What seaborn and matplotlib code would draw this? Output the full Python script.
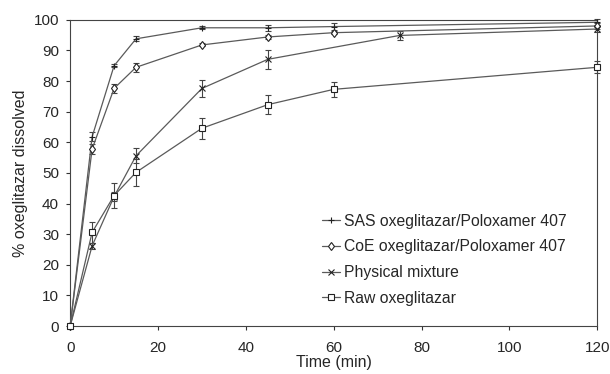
import numpy as np
import pandas as pd
import matplotlib
matplotlib.use('Agg')
import matplotlib.pyplot as plt
import seaborn as sns

# Values
labels = ['SAS oxeglitazar/Poloxamer 407', 'CoE oxeglitazar/Poloxamer 407',
          'Physical mixture', 'Raw oxeglitazar']

sas_t = [0, 5, 10, 15, 30, 45, 60, 120]
sas_y = [0, 61.8, 85.0, 93.8, 97.4, 97.4, 97.8, 99.2]
sas_err = [0, 1.5, 0.5, 0.8, 0.5, 1.0, 1.2, 1.0]

coe_t = [0, 5, 10, 15, 30, 45, 60, 120]
coe_y = [0, 57.8, 77.6, 84.5, 91.8, 94.4, 95.8, 98.0]
coe_err = [0, 1.5, 1.5, 1.5, 0.5, 0.7, 0.5, 1.0]

pm_t = [0, 5, 10, 15, 30, 45, 75, 120]
pm_y = [0, 26.2, 42.3, 55.6, 77.6, 87.1, 94.9, 97.0]
pm_err = [0, 1.0, 1.5, 2.5, 2.8, 3.0, 1.5, 1.0]

raw_t = [0, 5, 10, 15, 30, 45, 60, 120]
raw_y = [0, 30.6, 42.6, 50.2, 64.6, 72.3, 77.3, 84.5]
raw_err = [0, 3.5, 4.0, 4.5, 3.5, 3.0, 2.5, 2.0]

series = [(sas_t, sas_y, sas_err), (coe_t, coe_y, coe_err),
          (pm_t, pm_y, pm_err), (raw_t, raw_y, raw_err)]

frames = []
for lab, (t, y, e) in zip(labels, series):
    frames.append(pd.DataFrame({'time': t, 'dissolved': y, 'err': e, 'sample': lab}))
df = pd.concat(frames, ignore_index=True)

sns.set_style('ticks')
plt.rcParams['font.family'] = ['Liberation Sans', 'DejaVu Sans']

fig = plt.figure(figsize=(6.1, 3.74), dpi=100)
ax = fig.add_axes([0.115, 0.128, 0.864, 0.819])

markers = {labels[0]: '+', labels[1]: 'd', labels[2]: 'x', labels[3]: 's'}
sizes = {labels[0]: 5, labels[1]: 4.5, labels[2]: 4.5, labels[3]: 5}

for lab in labels:
    sub = df[df['sample'] == lab]
    eb = ax.errorbar(sub['time'], sub['dissolved'], yerr=sub['err'], fmt='none',
                     ecolor='#444444', elinewidth=0.8, capsize=2, capthick=0.8, zorder=2)
    for art in eb.lines[1] + eb.lines[2]:
        art.set_clip_on(False)
    sns.lineplot(data=sub, x='time', y='dissolved', ax=ax, color='#5a5a5a',
                 linewidth=0.9, marker=markers[lab], markersize=sizes[lab],
                 markerfacecolor='white', markeredgecolor='#222222',
                 markeredgewidth=0.8, label=lab, zorder=3, clip_on=False)

ax.set_xlim(0, 120)
ax.set_ylim(0, 100)
ax.set_xticks(np.arange(0, 121, 20))
ax.set_yticks(np.arange(0, 101, 10))
ax.tick_params(labelsize=11, length=3, width=0.8, color='#333333')
ax.tick_params(axis='x', pad=8)
ax.tick_params(axis='y', pad=5)
for s in ax.spines.values():
    s.set_color('#444444')
    s.set_linewidth(0.8)

ax.set_xlabel('Time (min)', fontsize=11.5, labelpad=0)
ax.set_ylabel('% oxeglitazar dissolved', fontsize=11.5, labelpad=4)

leg = ax.legend(loc='upper left', bbox_to_anchor=(0.478, 0.367), frameon=False,
                fontsize=11.3, handlelength=1.15, handletextpad=0.25,
                labelspacing=0.68, borderpad=0, borderaxespad=0)

fig.savefig('out.png', dpi=100)
